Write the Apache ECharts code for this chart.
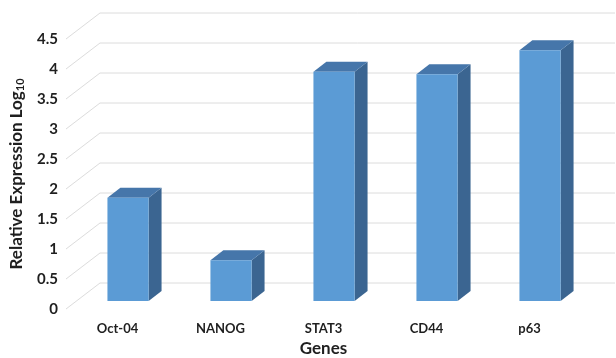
<!DOCTYPE html>
<html>
<head>
<meta charset="utf-8">
<style>
  html, body { margin: 0; padding: 0; background: #fff; }
  #chart { width: 616px; height: 358px; }
</style>
<script src="https://cdn.jsdelivr.net/npm/echarts@6/dist/echarts.min.js"></script>
</head>
<body>
<div id="chart"></div>
<script>
// Gene expression values (log10 relative expression)
const genes = ['Oct-04', 'NANOG', 'STAT3', 'CD44', 'p63'];
const expression = [1.72, 0.68, 3.82, 3.78, 4.18];
const yTicks = [0, 0.5, 1, 1.5, 2, 2.5, 3, 3.5, 4, 4.5];

// Perspective: offset (px) from the front plane to the back wall
const DEPTH_X = 34;
const DEPTH_Y = -26;
// Bars sit between these fractions of the depth
const FRONT_T = 0.31;
const BACK_T = 0.69;
const BAR_RATIO = 0.4;

const FONT = 'Lato, "Open Sans", sans-serif';
const TEXT = '#1f1f1f';

function renderGridLine(params, api) {
  const cs = params.coordSys;
  const y = api.coord([0, api.value(1)])[1];
  const x0 = cs.x;
  const x1 = cs.x + cs.width;
  return {
    type: 'polyline',
    shape: { points: [[x0, y], [x0 + DEPTH_X, y + DEPTH_Y], [x1 + DEPTH_X, y + DEPTH_Y]] },
    style: { stroke: '#dcdcdc', lineWidth: 1, fill: null }
  };
}

function renderBar(params, api) {
  const band = api.size([1, 0])[0];
  const base = api.coord([api.value(0), 0]);
  const top = api.coord([api.value(0), api.value(1)]);
  const w = band * BAR_RATIO;
  const fx = base[0] + DEPTH_X * FRONT_T - w / 2;
  const fy0 = base[1] + DEPTH_Y * FRONT_T;
  const fy1 = top[1] + DEPTH_Y * FRONT_T;
  const dx = DEPTH_X * (BACK_T - FRONT_T);
  const dy = DEPTH_Y * (BACK_T - FRONT_T);
  return {
    type: 'group',
    children: [
      {
        type: 'polygon',
        shape: { points: [[fx + w, fy1], [fx + w + dx, fy1 + dy], [fx + w + dx, fy0 + dy], [fx + w, fy0]] },
        style: { fill: '#3b6591' }
      },
      {
        type: 'polygon',
        shape: { points: [[fx, fy1], [fx + dx, fy1 + dy], [fx + w + dx, fy1 + dy], [fx + w, fy1]] },
        style: { fill: '#4676aa' }
      },
      {
        type: 'polygon',
        shape: { points: [[fx, fy1], [fx + w, fy1], [fx + w, fy0], [fx, fy0]] },
        style: { fill: '#5b9bd5' }
      }
    ]
  };
}

const chart = echarts.init(document.getElementById('chart'), null, { renderer: 'canvas' });

chart.setOption({
  backgroundColor: '#ffffff',
  animation: false,
  grid: { left: 66, right: 35, top: 39, bottom: 49, containLabel: false, outerBoundsMode: 'none' },
  xAxis: {
    type: 'category',
    data: genes,
    axisLine: { show: false },
    axisTick: { show: false },
    axisLabel: { margin: 13, fontFamily: FONT, fontWeight: 'bold', fontSize: 13, color: TEXT },
    name: 'Genes',
    nameLocation: 'middle',
    nameGap: 26,
    nameTextStyle: { fontFamily: FONT, fontWeight: 'bold', fontSize: 17, color: TEXT }
  },
  yAxis: {
    type: 'value',
    min: 0,
    max: 4.5,
    interval: 0.5,
    axisLine: { show: false },
    axisTick: { show: false },
    splitLine: { show: false },
    axisLabel: { margin: 8, fontFamily: FONT, fontWeight: 'bold', fontSize: 15, color: TEXT },
    name: 'Relative Expression Log{sub|10}',
    nameLocation: 'middle',
    nameRotate: 90,
    nameGap: 40,
    nameTextStyle: {
      fontFamily: FONT, fontWeight: 'bold', fontSize: 17, color: TEXT,
      rich: {
        sub: { fontFamily: FONT, fontWeight: 'bold', fontSize: 11, color: TEXT, verticalAlign: 'bottom', padding: [8, 0, 0, 0] }
      }
    }
  },
  series: [
    {
      type: 'custom',
      name: 'walls',
      silent: true,
      z: 1,
      encode: { x: 0, y: 1 },
      renderItem: renderGridLine,
      data: yTicks.map(v => [0, v])
    },
    {
      type: 'custom',
      name: 'Expression',
      z: 5,
      encode: { x: 0, y: 1 },
      renderItem: renderBar,
      data: expression.map((v, i) => [i, v])
    }
  ]
});
</script>
</body>
</html>
